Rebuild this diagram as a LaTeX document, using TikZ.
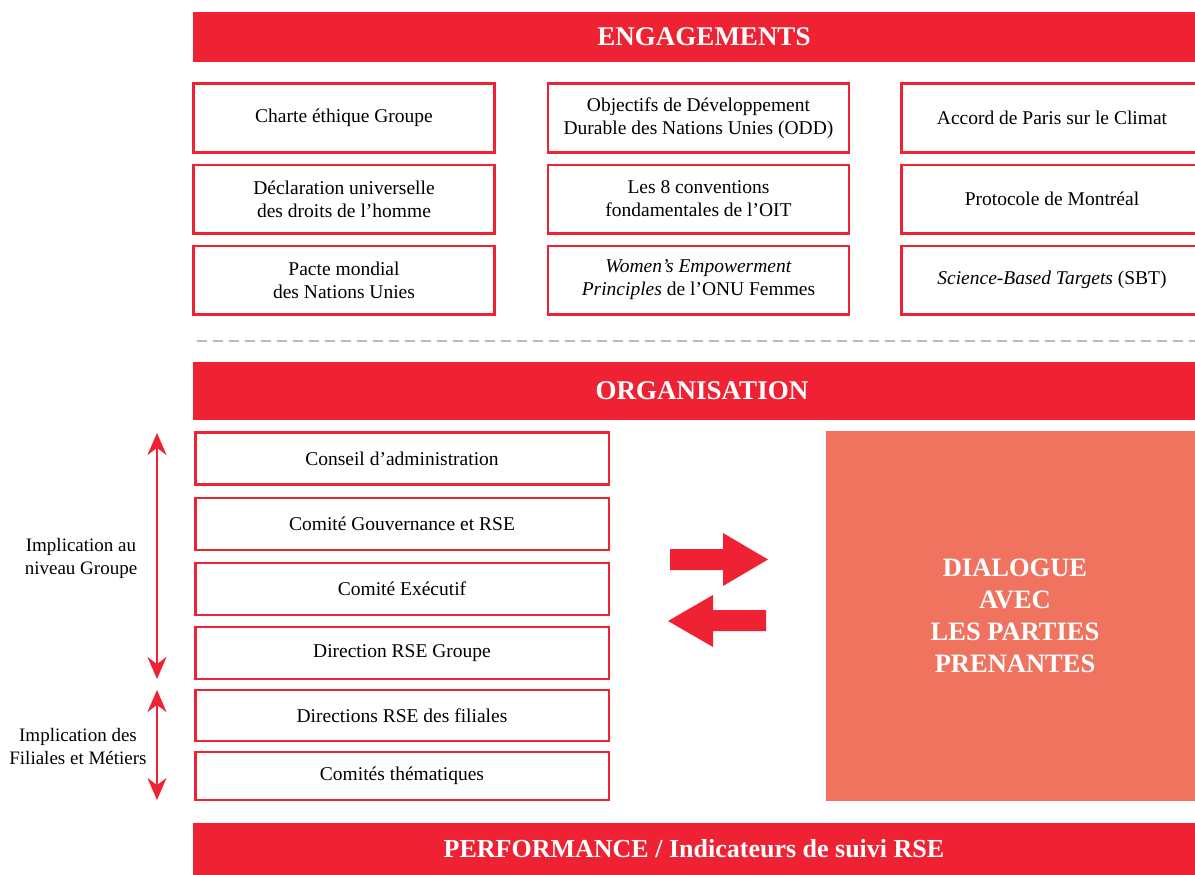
\documentclass[tikz,border=0pt]{standalone}
\usepackage{fontspec}
\setmainfont{Liberation Serif}
\usetikzlibrary{arrows.meta,positioning}
\definecolor{rsered}{HTML}{EE2233}
\definecolor{saumon}{HTML}{F07360}
\definecolor{tiret}{HTML}{BBBBBB}

\begin{document}
\begin{tikzpicture}[x=1pt, y=-1pt, >=Stealth,
    bandeau/.style={fill=rsered, text=white, inner sep=0, minimum height=50,
        font=\fontsize{27}{30}\selectfont\bfseries},
    engag/.style={draw=rsered, line width=2.5pt, minimum width=301, minimum height=68.5,
        align=center, inner sep=0, font=\fontsize{19.5}{23}\selectfont},
    organ/.style={draw=rsered, line width=2.5pt, minimum width=413.5, minimum height=52,
        align=center, inner sep=0, font=\fontsize{19.5}{23}\selectfont},
    niveau/.style={align=center, font=\fontsize{19}{23}\selectfont},
    fleche/.style={rsered, line width=2.5pt, arrows={Stealth[length=22pt, width=19pt]-Stealth[length=22pt, width=19pt]}}]

    \path[use as bounding box, clip] (0,0) rectangle (1195,875);

    % engagements
    \node[bandeau, minimum width=1022] (engagements) at (704,37) {ENGAGEMENTS};

    \node[engag] (charte) at (344,118) {Charte éthique Groupe};
    \node[engag, below=10pt of charte] (declaration) {Déclaration universelle\\des droits de l’homme};
    \node[engag, below=10pt of declaration] (pacte) {Pacte mondial\\des Nations Unies};

    \node[engag, right=51pt of charte] (odd) {Objectifs de Développement\\Durable des Nations Unies (ODD)};
    \node[engag, below=10pt of odd] (oit) {Les 8 conventions\\fondamentales de l’OIT};
    \node[engag, below=10pt of oit] (wep) {\textit{Women’s Empowerment}\\\textit{Principles} de l’ONU Femmes};

    \node[engag, right=50pt of odd] (paris) {Accord de Paris sur le Climat};
    \node[engag, below=10pt of paris] (montreal) {Protocole de Montréal};
    \node[engag, below=10pt of montreal] (sbt) {\textit{Science-Based Targets} (SBT)};

    \draw[tiret, line width=2pt, dash pattern=on 10pt off 6pt] (197,341) -- (1195,341);

    % organisation
    \node[bandeau, minimum width=1018, minimum height=58] (organisation) at (702,391) {ORGANISATION};

    \node[organ] (conseil) at (402,458.5) {Conseil d’administration};
    \node[organ] (gouvernance) at (402,524) {Comité Gouvernance et RSE};
    \node[organ] (comex) at (402,589) {Comité Exécutif};
    \node[organ] (direction) at (402,653) {Direction RSE Groupe};
    \node[organ, minimum height=51] (filiales) at (402,715.5) {Directions RSE des filiales};
    \node[organ, minimum height=48] (comites) at (402,776) {Comités thématiques};

    \coordinate (g1) at (157,433);
    \coordinate (g2) at (157,679);
    \coordinate (f1) at (157,690);
    \coordinate (f2) at (157,800);
    \draw[fleche] (g1) -- (g2);
    \draw[fleche] (f1) -- (f2);

    \node[niveau] (groupe) at (81,558) {Implication au\\niveau Groupe};
    \node[niveau] (metiers) at (78,746) {Implication des\\Filiales et Métiers};

    % dialogue
    \node[fill=saumon, minimum width=378, minimum height=370, inner sep=0, text=white, align=center,
        font=\fontsize{26.5}{32}\selectfont\bfseries] (dialogue) at (1015,616)
        {DIALOGUE\\AVEC\\LES PARTIES\\PRENANTES};

    \fill[rsered] (670,549) -- (723,549) -- (723,533) -- (768,559.5) -- (723,586) -- (723,570) -- (670,570) -- cycle;
    \fill[rsered] (766,610) -- (713,610) -- (713,595) -- (668,621) -- (713,647) -- (713,631) -- (766,631) -- cycle;

    % performance
    \node[bandeau, minimum width=1002, minimum height=52, font=\fontsize{26}{30}\selectfont\bfseries] (performance) at (694,849)
        {PERFORMANCE / Indicateurs de suivi RSE};

\end{tikzpicture}
\end{document}
